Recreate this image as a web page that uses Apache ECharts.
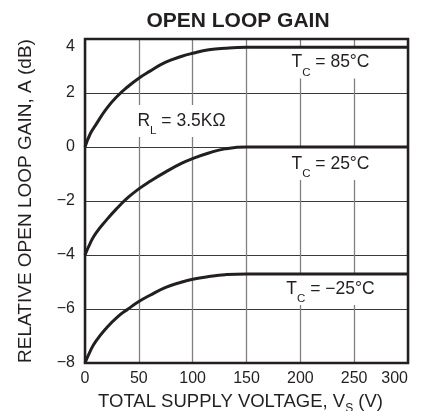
<!DOCTYPE html>
<html><head><meta charset="utf-8">
<script src="https://cdn.jsdelivr.net/npm/echarts@6/dist/echarts.min.js"></script>
<style>html,body{margin:0;padding:0;background:#fff}#c{width:427px;height:411px}</style>
</head><body><div id="c"></div>
<script>
const voltages = [0, 5, 10, 20, 30, 40, 50, 60, 75, 90, 100, 115, 130, 150, 200, 250, 300];
const gain85 = [0, 0.5, 0.82, 1.42, 1.88, 2.24, 2.55, 2.8, 3.14, 3.36, 3.47, 3.6, 3.66, 3.69, 3.69, 3.69, 3.69];
const gain25 = [-4, -3.55, -3.2, -2.7, -2.26, -1.87, -1.55, -1.28, -0.92, -0.6, -0.43, -0.22, -0.07, 0, 0, 0, 0];
const gainM25 = [-8, -7.55, -7.2, -6.7, -6.3, -6.0, -5.72, -5.5, -5.2, -5.0, -4.9, -4.8, -4.73, -4.7, -4.7, -4.7, -4.7];
const xTicks = [0, 50, 100, 150, 200, 250, 300];
const yTicks = [-8, -6, -4, -2, 0, 2, 4];
const labelTexts = ['T{s|C} = 85°C', 'T{s|C} = 25°C', 'T{s|C} = −25°C', 'R{s|L} = 3.5KΩ'];
const labelX = [228, 228, 228, 89.6];
const labelY = [3.13, -0.63, -5.26, 0.96];

const FONT = '"Liberation Sans", Arial, Helvetica, sans-serif';
const INK = '#231f20';
const fmt = v => v < 0 ? '\u2212' + Math.abs(v) : String(v);

const chart = echarts.init(document.getElementById('c'), null, {renderer: 'canvas'});
const curve = (vals) => ({
  type: 'line', data: voltages.map((v, i) => [v, vals[i]]),
  showSymbol: false, symbol: 'none', smooth: 0.5,
  lineStyle: {color: INK, width: 3}, silent: true, z: 3,
  emphasis: {disabled: true}
});
chart.setOption({
  animation: false,
  backgroundColor: '#fff',
  grid: {left: 85, right: 19, top: 39, bottom: 48, outerBoundsMode: 'none', containLabel: false,
    show: true, borderColor: INK, borderWidth: 2.5, backgroundColor: 'transparent', z: 4},
  graphic: [{
    type: 'text', x: 238, y: 21, z: 10,
    style: {text: 'OPEN LOOP GAIN', font: 'bold 21px ' + FONT, fill: INK, align: 'center', verticalAlign: 'middle'}
  }],
  xAxis: {
    type: 'value', min: xTicks[0], max: xTicks[xTicks.length - 1], interval: xTicks[1] - xTicks[0],
    axisLine: {show: false}, axisTick: {show: false},
    axisLabel: {fontSize: 16, fontFamily: FONT, color: INK, margin: 8, formatter: fmt, alignMaxLabel: 'right'},
    splitLine: {show: true, lineStyle: {color: '#808080', width: 1.3}},
    name: 'TOTAL SUPPLY VOLTAGE, V{s|S} (V)', nameLocation: 'middle', nameGap: 26,
    nameTextStyle: {fontSize: 18.5, fontFamily: FONT, color: INK, padding: [0, 12, 0, 0],
      rich: {s: {fontSize: 12, fontFamily: FONT, color: INK, padding: [14, 0, 0, 0]}}}
  },
  yAxis: {
    type: 'value', min: yTicks[0], max: yTicks[yTicks.length - 1], interval: yTicks[1] - yTicks[0],
    axisLine: {show: false}, axisTick: {show: false},
    axisLabel: {fontSize: 16, fontFamily: FONT, color: INK, margin: 10, formatter: fmt,
      verticalAlignMaxLabel: 'top', verticalAlignMinLabel: 'middle'},
    splitLine: {show: true, lineStyle: {color: '#3a3a3a', width: 1}},
    name: 'RELATIVE OPEN LOOP GAIN, A (dB)', nameLocation: 'middle', nameGap: 50,
    nameTextStyle: {fontSize: 19, fontFamily: FONT, color: INK}
  },
  series: [
    curve(gain85), curve(gain25), curve(gainM25),
    {
      type: 'scatter', symbolSize: 0, silent: true, z: 2,
      itemStyle: {opacity: 1},
      data: labelX.map((x, i) => [x, labelY[i], labelTexts[i]]),
      label: {
        show: true, position: 'inside', formatter: p => p.data[2],
        color: INK, fontSize: 17.5, fontFamily: FONT, textBorderWidth: 0,
        backgroundColor: '#fff', padding: [0, 3, 0, 3],
        rich: {
          s: {fontSize: 11.5, fontFamily: FONT, color: INK, padding: [20, 0, 0, 0]}
        }
      },
      emphasis: {disabled: true}
    }
  ]
});
</script>
</body></html>
